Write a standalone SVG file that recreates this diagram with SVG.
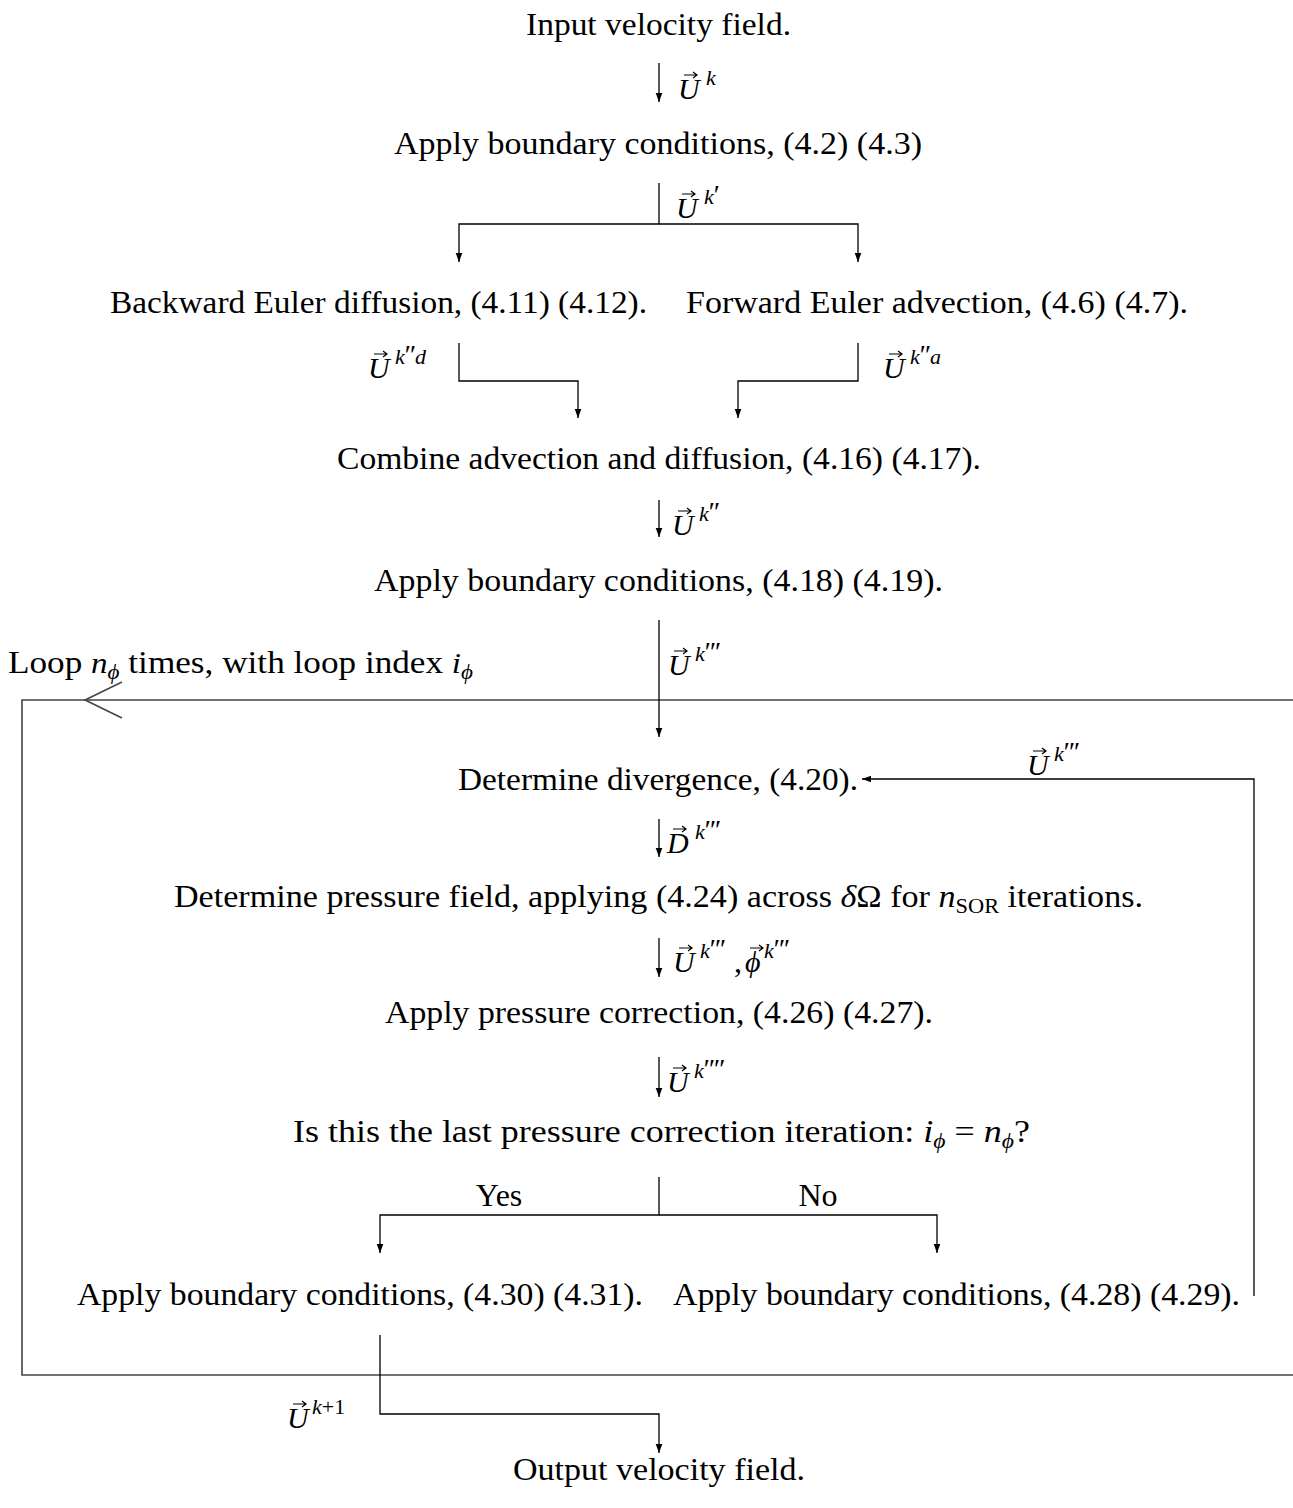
<svg xmlns="http://www.w3.org/2000/svg" xmlns:xlink="http://www.w3.org/1999/xlink" width="1293" height="1508" viewBox="0 0 1293 1508">
<style>
  text { font-family: "Liberation Serif", "Times New Roman", serif; fill: #000; }
  .t { font-size: 32px; }
  .mi { font-size: 30px; font-style: italic; }
  .sup { font-size: 22px; font-style: italic; }
  .pr { font-style: normal; font-size: 28px; letter-spacing: -1px; }
  .supr { font-size: 22px; font-style: normal; }
  .sub { font-size: 21px; }
  .conn { fill: none; stroke: #000; stroke-width: 1.3; }
  .loop { fill: none; stroke: #444; stroke-width: 1.6; }
  .vec { fill: none; stroke: #000; stroke-width: 1.2; }
</style>
<defs>
  <marker id="ah" viewBox="-10 -5 10 10" refX="0" refY="0" markerWidth="10" markerHeight="10" markerUnits="userSpaceOnUse" orient="auto">
    <path d="M0,0 L-9,-3.3 L-9,3.3 Z" fill="#000"/>
  </marker>
  <path id="vec" class="vec" d="M0,0 H13 M9,-3 L13,0 L9,3"/>
</defs>

<g id="loop">
  <path class="loop" d="M1293,700 H22 V1375 H1293"/>
  <path class="loop" d="M122,682 L85,700 L122,718"/>
  <text id="loop-label" x="8" y="673" class="t" textLength="465" lengthAdjust="spacingAndGlyphs">Loop <tspan class="mi">n</tspan><tspan class="sub" font-style="italic" dy="6">ϕ</tspan><tspan dy="-6"> times, with loop index </tspan><tspan class="mi">i</tspan><tspan class="sub" font-style="italic" dy="6">ϕ</tspan></text>
</g>

<g id="connectors">
  <path class="conn" d="M659,63 V102" marker-end="url(#ah)"/>
  <path class="conn" d="M659,183 V224 H459 V262" marker-end="url(#ah)"/>
  <path class="conn" d="M659,224 H858 V262" marker-end="url(#ah)"/>
  <path class="conn" d="M459,343 V381 H578 V418" marker-end="url(#ah)"/>
  <path class="conn" d="M858,343 V381 H738 V418" marker-end="url(#ah)"/>
  <path class="conn" d="M659,500 V537" marker-end="url(#ah)"/>
  <path class="conn" d="M659,620 V737" marker-end="url(#ah)"/>
  <path class="conn" d="M1254,1296 V779 H862" marker-end="url(#ah)"/>
  <path class="conn" d="M659,819 V857" marker-end="url(#ah)"/>
  <path class="conn" d="M659,938 V977" marker-end="url(#ah)"/>
  <path class="conn" d="M659,1057 V1097" marker-end="url(#ah)"/>
  <path class="conn" d="M659,1177 V1215 H380 V1253" marker-end="url(#ah)"/>
  <path class="conn" d="M659,1215 H937 V1253" marker-end="url(#ah)"/>
  <path class="conn" d="M380,1335 V1414 H659 V1453" marker-end="url(#ah)"/>
</g>

<g id="labels">
  <g id="lbl-uk"><use xlink:href="#vec" x="684" y="75"/><text x="678" y="99" class="mi">U</text><text x="706" y="85" class="sup">k</text></g>
  <g id="lbl-uk1"><use xlink:href="#vec" x="682" y="194"/><text x="676" y="218" class="mi">U</text><text x="704" y="204" class="sup">k<tspan class="pr">′</tspan></text></g>
  <g id="lbl-ukd"><use xlink:href="#vec" x="374" y="354"/><text x="368" y="378" class="mi">U</text><text x="395" y="364" class="sup">k<tspan class="pr">′′</tspan>d</text></g>
  <g id="lbl-uka"><use xlink:href="#vec" x="889" y="354"/><text x="883" y="378" class="mi">U</text><text x="910" y="364" class="sup">k<tspan class="pr">′′</tspan>a</text></g>
  <g id="lbl-uk2"><use xlink:href="#vec" x="678" y="511"/><text x="672" y="535" class="mi">U</text><text x="699" y="521" class="sup">k<tspan class="pr">′′</tspan></text></g>
  <g id="lbl-uk3"><use xlink:href="#vec" x="674" y="651"/><text x="668" y="675" class="mi">U</text><text x="695" y="661" class="sup">k<tspan class="pr">′′′</tspan></text></g>
  <g id="lbl-uk3b"><use xlink:href="#vec" x="1033" y="751"/><text x="1027" y="775" class="mi">U</text><text x="1054" y="761" class="sup">k<tspan class="pr">′′′</tspan></text></g>
  <g id="lbl-dk3"><use xlink:href="#vec" x="673" y="829"/><text x="667" y="853" class="mi">D</text><text x="695" y="839" class="sup">k<tspan class="pr">′′′</tspan></text></g>
  <g id="lbl-uphi"><use xlink:href="#vec" x="679" y="948"/><text x="673" y="972" class="mi">U</text><text x="700" y="958" class="sup">k<tspan class="pr">′′′</tspan></text><text x="734" y="972" class="t">,</text><use xlink:href="#vec" x="750" y="948"/><text x="745" y="972" class="mi">ϕ</text><text x="764" y="958" class="sup">k<tspan class="pr">′′′</tspan></text></g>
  <g id="lbl-uk4"><use xlink:href="#vec" x="673" y="1068"/><text x="667" y="1092" class="mi">U</text><text x="694" y="1078" class="sup">k<tspan class="pr">′′′′</tspan></text></g>
  <g id="lbl-ukp1"><use xlink:href="#vec" x="293" y="1404"/><text x="287" y="1428" class="mi">U</text><text x="312" y="1414" class="sup">k<tspan class="supr">+1</tspan></text></g>
  <text id="lbl-yes" x="499" y="1206" class="t" text-anchor="middle">Yes</text>
  <text id="lbl-no" x="818" y="1206" class="t" text-anchor="middle">No</text>
</g>

<g id="n-input"><text x="526" y="35" class="t" textLength="265" lengthAdjust="spacingAndGlyphs">Input velocity field.</text></g>
<g id="n-bc1"><text x="394" y="154" class="t" textLength="528" lengthAdjust="spacingAndGlyphs">Apply boundary conditions, (4.2) (4.3)</text></g>
<g id="n-diff"><text x="110" y="313" class="t" textLength="537" lengthAdjust="spacingAndGlyphs">Backward Euler diffusion, (4.11) (4.12).</text></g>
<g id="n-adv"><text x="686" y="313" class="t" textLength="502" lengthAdjust="spacingAndGlyphs">Forward Euler advection, (4.6) (4.7).</text></g>
<g id="n-combine"><text x="337" y="469" class="t" textLength="644" lengthAdjust="spacingAndGlyphs">Combine advection and diffusion, (4.16) (4.17).</text></g>
<g id="n-bc2"><text x="374" y="591" class="t" textLength="569" lengthAdjust="spacingAndGlyphs">Apply boundary conditions, (4.18) (4.19).</text></g>
<g id="n-div"><text x="458" y="790" class="t" textLength="400" lengthAdjust="spacingAndGlyphs">Determine divergence, (4.20).</text></g>
<g id="n-press"><text x="174" y="907" class="t" textLength="969" lengthAdjust="spacingAndGlyphs">Determine pressure field, applying (4.24) across <tspan font-style="italic">δ</tspan>Ω for <tspan font-style="italic">n</tspan><tspan class="sub" dy="6">SOR</tspan><tspan dy="-6"> iterations.</tspan></text></g>
<g id="n-corr"><text x="385" y="1023" class="t" textLength="548" lengthAdjust="spacingAndGlyphs">Apply pressure correction, (4.26) (4.27).</text></g>
<g id="n-last"><text x="293" y="1142" class="t" textLength="737" lengthAdjust="spacingAndGlyphs">Is this the last pressure correction iteration: <tspan font-style="italic">i</tspan><tspan class="sub" font-style="italic" dy="6">ϕ</tspan><tspan dy="-6"> = </tspan><tspan font-style="italic">n</tspan><tspan class="sub" font-style="italic" dy="6">ϕ</tspan><tspan dy="-6">?</tspan></text></g>
<g id="n-bc4"><text x="77" y="1305" class="t" textLength="566" lengthAdjust="spacingAndGlyphs">Apply boundary conditions, (4.30) (4.31).</text></g>
<g id="n-bc3"><text x="673" y="1305" class="t" textLength="567" lengthAdjust="spacingAndGlyphs">Apply boundary conditions, (4.28) (4.29).</text></g>
<g id="n-output"><text x="513" y="1480" class="t" textLength="292" lengthAdjust="spacingAndGlyphs">Output velocity field.</text></g>
</svg>
